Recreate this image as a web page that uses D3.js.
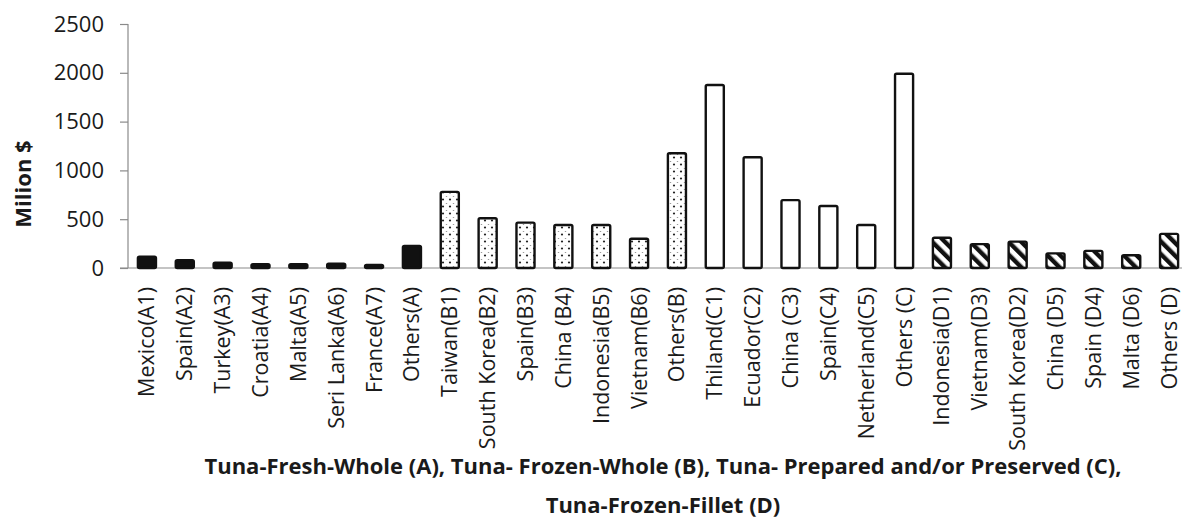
<!DOCTYPE html>
<html>
<head>
<meta charset="utf-8">
<script src="https://cdn.jsdelivr.net/npm/d3@7"></script>
<style>
  html, body { margin: 0; padding: 0; background: #fff; }
  svg { display: block; }
  text { font-family: "Open Sans", "DejaVu Sans", sans-serif; fill: #1a1a1a; }
</style>
</head>
<body>
<svg id="chart" width="1182" height="518"></svg>
<script>
// ---- data ----
const categories = [
  "Mexico(A1)", "Spain(A2)", "Turkey(A3)", "Croatia(A4)", "Malta(A5)", "Seri Lanka(A6)", "France(A7)", "Others(A)",
  "Taiwan(B1)", "South Korea(B2)", "Spain(B3)", "China (B4)", "Indonesia(B5)", "Vietnam(B6)", "Others(B)",
  "Thiland(C1)", "Ecuador(C2)", "China (C3)", "Spain(C4)", "Netherland(C5)", "Others (C)",
  "Indonesia(D1)", "Vietnam(D3)", "South Korea(D2)", "China (D5)", "Spain (D4)", "Malta (D6)", "Others (D)"
];
const groups = [
  "A", "A", "A", "A", "A", "A", "A", "A",
  "B", "B", "B", "B", "B", "B", "B",
  "C", "C", "C", "C", "C", "C",
  "D", "D", "D", "D", "D", "D", "D"
];
const values = [
  115, 80, 55, 40, 40, 45, 30, 225,
  780, 510, 465, 440, 440, 300, 1175,
  1875, 1135, 695, 635, 440, 1990,
  310, 245, 270, 150, 175, 130, 350
];
const yTicks = [0, 500, 1000, 1500, 2000, 2500];
const yTitle = "Milion $";
const xTitleLines = [
  "Tuna-Fresh-Whole (A), Tuna- Frozen-Whole (B), Tuna- Prepared and/or Preserved (C),",
  "Tuna-Frozen-Fillet (D)"
];

// ---- chart ----
const svg = d3.select("#chart");
svg.append("rect").attr("width", 1182).attr("height", 518).attr("fill", "#fff");

const defs = svg.append("defs");
// dotted pattern (B)
const dots = defs.append("pattern").attr("id", "patDots")
  .attr("patternUnits", "userSpaceOnUse").attr("width", 7).attr("height", 7);
dots.append("rect").attr("width", 7).attr("height", 7).attr("fill", "#fff");
dots.append("circle").attr("cx", 2).attr("cy", 3.5).attr("r", 1.1).attr("fill", "#222");
dots.append("circle").attr("cx", 5.5).attr("cy", 0).attr("r", 0.8).attr("fill", "#666");
// stripes pattern (D)
const stripes = defs.append("pattern").attr("id", "patStripes")
  .attr("patternUnits", "userSpaceOnUse").attr("width", 9).attr("height", 9)
  .attr("patternTransform", "rotate(-45)");
stripes.append("rect").attr("width", 9).attr("height", 9).attr("fill", "#fff");
stripes.append("rect").attr("x", 0).attr("y", 0).attr("width", 4.4).attr("height", 9).attr("fill", "#111");

const fills = { A: "#111", B: "url(#patDots)", C: "#fff", D: "url(#patStripes)" };

const x = d3.scaleBand().domain(categories).range([128, 1188])
  .paddingInner(0.47).paddingOuter(0.235);
const y = d3.scaleLinear().domain([0, 2500]).range([268, 24]);

// y axis
const yAxis = svg.append("g").attr("transform", "translate(128,0)")
  .call(d3.axisLeft(y).tickValues(yTicks).tickSize(8).tickPadding(16).tickFormat(d3.format("d")));
yAxis.select(".domain").attr("stroke", "#8a8a8a").attr("stroke-width", 1.2).attr("d", "M0,24V268");
yAxis.selectAll(".tick line").attr("stroke", "#8a8a8a").attr("stroke-width", 1.2);
yAxis.selectAll(".tick text").attr("font-size", 22).attr("fill", "#1a1a1a")
  .style("font-family", "'Open Sans', sans-serif");

// x baseline
svg.append("line").attr("x1", 120).attr("x2", 1182).attr("y1", y(0)).attr("y2", y(0))
  .attr("stroke", "#8a8a8a").attr("stroke-width", 1.2);

// bars
svg.append("g").selectAll("rect").data(categories).join("rect")
  .attr("x", d => x(d) + 1)
  .attr("width", x.bandwidth() - 2)
  .attr("y", (d, i) => y(values[i]))
  .attr("height", (d, i) => y(0) - y(values[i]))
  .attr("rx", 1.5)
  .attr("fill", (d, i) => fills[groups[i]])
  .attr("stroke", "#111")
  .attr("stroke-width", 2.4);

// category labels
svg.append("g").selectAll("text").data(categories).join("text")
  .attr("transform", d => `translate(${x(d) + x.bandwidth() / 2},287) rotate(-90)`)
  .attr("text-anchor", "end")
  .attr("dy", "0.35em")
  .attr("font-size", 21.5)
  .text(d => d);

// y title
svg.append("text")
  .attr("transform", "translate(23,184) rotate(-90)")
  .attr("text-anchor", "middle")
  .attr("dy", "0.35em")
  .attr("font-size", 22)
  .attr("font-weight", "bold")
  .text(yTitle);

// x title
svg.append("g").selectAll("text").data(xTitleLines).join("text")
  .attr("x", 663)
  .attr("y", (d, i) => 474 + i * 39)
  .attr("text-anchor", "middle")
  .attr("font-size", 22)
  .attr("font-weight", "bold")
  .text(d => d);
</script>
</body>
</html>
